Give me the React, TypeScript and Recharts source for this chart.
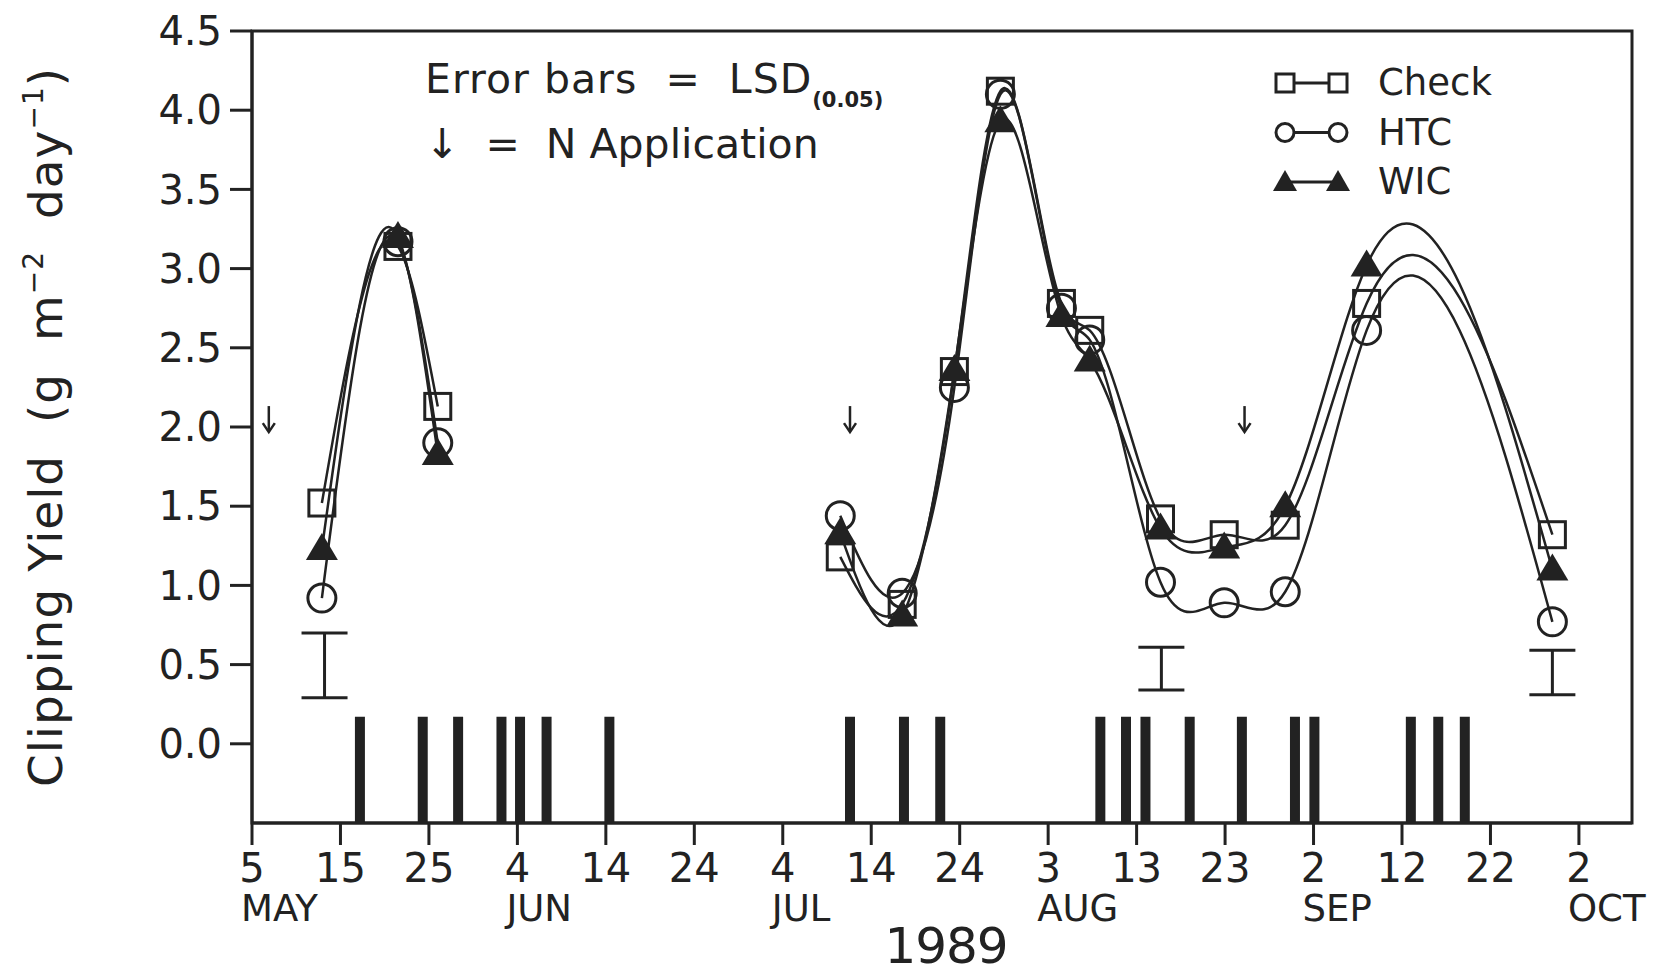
import {
  ComposedChart,
  Line,
  Scatter,
  ErrorBar,
  XAxis,
  YAxis,
  ReferenceLine,
  ReferenceArea,
  Legend,
} from "recharts";

const INK = "#222";
const FONT = "'DejaVu Sans', 'Liberation Sans', sans-serif";

// x = days after 5 May 1989
const X_TICKS = [0, 10, 20, 30, 40, 50, 60, 70, 80, 90, 100, 110, 120, 130, 140, 150];
const DAY_LABELS = ["5", "15", "25", "4", "14", "24", "4", "14", "24", "3", "13", "23", "2", "12", "22", "2"];
const MONTH_LABELS = ["MAY", "", "", "JUN", "", "", "JUL", "", "", "AUG", "", "", "SEP", "", "", "OCT"];
const Y_TICKS = [0, 0.5, 1, 1.5, 2, 2.5, 3, 3.5, 4, 4.5];

// first clipping period
const SPRING_DAYS = [7.9, 16.5, 21.0];
const SPRING_CHECK = [1.52, 3.14, 2.13];
const SPRING_HTC = [0.92, 3.17, 1.9];
const SPRING_WIC = [1.23, 3.2, 1.83];

// second clipping period
const SUMMER_DAYS = [66.5, 73.5, 79.4, 84.6, 91.5, 94.7, 102.7, 109.9, 116.8, 126.0, 147.0];
const SUMMER_CHECK = [1.18, 0.88, 2.35, 4.12, 2.78, 2.61, 1.42, 1.32, 1.38, 2.78, 1.32];
const SUMMER_HTC = [1.44, 0.95, 2.25, 4.1, 2.75, 2.55, 1.02, 0.89, 0.96, 2.61, 0.77];
const SUMMER_WIC = [1.33, 0.81, 2.36, 3.93, 2.7, 2.42, 1.36, 1.24, 1.5, 3.02, 1.1];

// LSD(0.05) bars
const LSD_DAYS = [8.2, 102.8, 147.0];
const LSD_LOW = [0.29, 0.34, 0.31];
const LSD_HIGH = [0.7, 0.61, 0.59];

// N application arrows
const N_DAYS = [1.9, 67.6, 112.2];
const N_LEVEL = [2.05, 2.05, 2.05];

// event bars along the bottom
const EVENT_DAYS = [12.2, 19.3, 23.3, 28.2, 30.3, 33.3, 40.4, 67.6, 73.7, 77.8, 95.9, 98.8, 101.0, 106.0, 111.9, 117.9, 120.1, 131.0, 134.1, 137.1];
const EVENT_TOP = 0.17;
const Y_MIN = -0.5;
const Y_MAX = 4.5;
const X_MAX = 156;

const springRows = SPRING_DAYS.map((day, i) => ({
  day,
  check: SPRING_CHECK[i],
  htc: SPRING_HTC[i],
  wic: SPRING_WIC[i],
}));
const summerRows = SUMMER_DAYS.map((day, i) => ({
  day,
  check: SUMMER_CHECK[i],
  htc: SUMMER_HTC[i],
  wic: SUMMER_WIC[i],
}));
const lsdRows = LSD_DAYS.map((day, i) => ({
  day,
  mid: (LSD_LOW[i] + LSD_HIGH[i]) / 2,
  err: (LSD_HIGH[i] - LSD_LOW[i]) / 2,
}));
const arrowRows = N_DAYS.map((day, i) => ({ day, level: N_LEVEL[i] }));

// knot slopes of a natural cubic spline y(x)
function naturalSlopes(xs: number[], ys: number[]) {
  const n = xs.length - 1;
  const h: number[] = [];
  const d: number[] = [];
  for (let i = 0; i < n; i++) {
    h[i] = xs[i + 1] - xs[i];
    d[i] = (ys[i + 1] - ys[i]) / h[i];
  }
  const M = new Array(n + 1).fill(0);
  if (n >= 2) {
    const a: number[] = [];
    const b: number[] = [];
    const c: number[] = [];
    const r: number[] = [];
    for (let i = 1; i < n; i++) {
      a[i] = h[i - 1];
      b[i] = 2 * (h[i - 1] + h[i]);
      c[i] = h[i];
      r[i] = 6 * (d[i] - d[i - 1]);
    }
    for (let i = 2; i < n; i++) {
      const w = a[i] / b[i - 1];
      b[i] -= w * c[i - 1];
      r[i] -= w * r[i - 1];
    }
    M[n - 1] = r[n - 1] / b[n - 1];
    for (let i = n - 2; i >= 1; i--) M[i] = (r[i] - c[i] * M[i + 1]) / b[i];
  }
  const s: number[] = [];
  for (let i = 0; i < n; i++) s[i] = d[i] - (h[i] * (2 * M[i] + M[i + 1])) / 6;
  s[n] = d[n - 1] + (h[n - 1] * (M[n - 1] + 2 * M[n])) / 6;
  return s;
}

// curve factory: spline of y as a function of x (not parametric like curveNatural)
function splineCurve(context: any) {
  let xs: number[] = [];
  let ys: number[] = [];
  return {
    areaStart() {},
    areaEnd() {},
    lineStart() {
      xs = [];
      ys = [];
    },
    point(x: number, y: number) {
      xs.push(+x);
      ys.push(+y);
    },
    lineEnd() {
      const n = xs.length;
      if (n === 0) return;
      context.moveTo(xs[0], ys[0]);
      if (n === 1) return;
      const s = naturalSlopes(xs, ys);
      for (let i = 0; i < n - 1; i++) {
        const h = xs[i + 1] - xs[i];
        context.bezierCurveTo(
          xs[i] + h / 3,
          ys[i] + (s[i] * h) / 3,
          xs[i + 1] - h / 3,
          ys[i + 1] - (s[i + 1] * h) / 3,
          xs[i + 1],
          ys[i + 1]
        );
      }
    },
  };
}

const SquareDot = (p: any) =>
  p.cx == null ? null : (
    <rect key={p.key} x={p.cx - 13} y={p.cy - 13} width={26} height={26} fill="none" stroke={INK} strokeWidth={3} />
  );
const CircleDot = (p: any) =>
  p.cx == null ? null : <circle key={p.key} cx={p.cx} cy={p.cy} r={14} fill="none" stroke={INK} strokeWidth={3} />;
const TriangleDot = (p: any) =>
  p.cx == null ? null : (
    <path key={p.key} d={`M${p.cx},${p.cy - 16}L${p.cx - 16},${p.cy + 11}L${p.cx + 16},${p.cy + 11}Z`} fill={INK} />
  );

const ArrowShape = (p: any) => (
  <g stroke={INK} strokeWidth={2.5} fill="none">
    <line x1={p.cx} y1={p.cy - 13} x2={p.cx} y2={p.cy + 12} />
    <path d={`M${p.cx - 6},${p.cy + 4}L${p.cx},${p.cy + 13}L${p.cx + 6},${p.cy + 4}`} />
  </g>
);

function DateTick(props: any) {
  const { x, y, payload } = props;
  const i = X_TICKS.indexOf(payload.value);
  return (
    <g fill={INK} fontFamily={FONT}>
      <text x={x} y={y + 35} textAnchor="middle" fontSize={40}>
        {DAY_LABELS[i]}
      </text>
      {MONTH_LABELS[i] && (
        <text x={x - 11} y={y + 74} textAnchor="start" fontSize={37}>
          {MONTH_LABELS[i]}
        </text>
      )}
    </g>
  );
}

const LEGEND_ITEMS = [
  { name: "Check", dot: "square" },
  { name: "HTC", dot: "circle" },
  { name: "WIC", dot: "triangle" },
];

function LegendMark({ kind, x, y }: { kind: string; x: number; y: number }) {
  if (kind === "square")
    return <rect x={x - 9} y={y - 9} width={18} height={18} fill="#fff" stroke={INK} strokeWidth={3} />;
  if (kind === "circle") return <circle cx={x} cy={y} r={9} fill="#fff" stroke={INK} strokeWidth={3} />;
  return <path d={`M${x},${y - 12}L${x - 12},${y + 9}L${x + 12},${y + 9}Z`} fill={INK} />;
}

function TreatmentLegend() {
  return (
    <svg width={240} height={150}>
      {LEGEND_ITEMS.map((item, i) => {
        const cy = 25 + i * 49.5;
        return (
          <g key={item.name}>
            <line x1={17} y1={cy} x2={70} y2={cy} stroke={INK} strokeWidth={3} />
            <LegendMark kind={item.dot} x={17} y={cy} />
            <LegendMark kind={item.dot} x={70} y={cy} />
            <text x={110} y={cy + 12} fontSize={37} fontFamily={FONT} fill={INK}>
              {item.name}
            </text>
          </g>
        );
      })}
    </svg>
  );
}

const SERIES = [
  { key: "check", dot: SquareDot },
  { key: "htc", dot: CircleDot },
  { key: "wic", dot: TriangleDot },
];

export default function App() {
  return (
    <div style={{ position: "absolute", left: 0, top: 0, width: 1655, height: 975, background: "#fff" }}>
      <ComposedChart width={1655} height={975} margin={{ top: 31, right: 23, left: 0, bottom: 0 }}>
        <XAxis
          type="number"
          dataKey="day"
          domain={[0, X_MAX]}
          ticks={X_TICKS}
          interval={0}
          allowDataOverflow
          height={152}
          tickSize={22}
          tickMargin={2}
          tick={<DateTick />}
          tickLine={{ stroke: INK, strokeWidth: 3 }}
          axisLine={{ stroke: INK, strokeWidth: 3 }}
        />
        <YAxis
          type="number"
          domain={[Y_MIN, Y_MAX]}
          ticks={Y_TICKS}
          interval={0}
          allowDataOverflow
          width={252}
          tickSize={22}
          tickMargin={8}
          tickFormatter={(v: number) => v.toFixed(1)}
          tick={{ fontSize: 40, fill: INK, fontFamily: FONT }}
          tickLine={{ stroke: INK, strokeWidth: 3 }}
          axisLine={{ stroke: INK, strokeWidth: 3 }}
        />
        <ReferenceArea x1={0} x2={X_MAX} y1={Y_MIN} y2={Y_MAX} fill="none" stroke={INK} strokeWidth={3} />
        {EVENT_DAYS.map((d) => (
          <ReferenceLine
            key={`ev-${d}`}
            segment={[
              { x: d, y: Y_MIN },
              { x: d, y: EVENT_TOP },
            ]}
            stroke={INK}
            strokeWidth={10}
          />
        ))}
        <Scatter data={lsdRows} dataKey="mid" shape={() => <g />} isAnimationActive={false}>
          <ErrorBar dataKey="err" direction="y" width={23} strokeWidth={3} stroke={INK} />
        </Scatter>
        <Scatter data={arrowRows} dataKey="level" shape={ArrowShape} isAnimationActive={false} />

        {[springRows, summerRows].map((rows, k) =>
          SERIES.map((s) => (
            <Line
              key={`${s.key}-${k}`}
              data={rows}
              dataKey={s.key}
              type={splineCurve as any}
              stroke={INK}
              strokeWidth={2.5}
              dot={s.dot}
              activeDot={false}
              isAnimationActive={false}
            />
          ))
        )}
        <Legend
          layout="vertical"
          align="center"
          verticalAlign="middle"
          content={<TreatmentLegend />}
          wrapperStyle={{ position: "absolute", left: 1268, top: 58, width: 240 }}
        />
      </ComposedChart>

      <svg
        width={1655}
        height={975}
        style={{ position: "absolute", left: 0, top: 0, pointerEvents: "none" }}
        fontFamily={FONT}
        fill={INK}
      >
        <text x={425} y={93} fontSize={41} letterSpacing={1} style={{ whiteSpace: "pre" }}>
          {"Error bars  =  LSD"}
          <tspan fontSize={21} fontWeight="bold" dy={14} letterSpacing={0}>
            (0.05)
          </tspan>
        </text>
        <text x={425} y={158} fontSize={41} style={{ whiteSpace: "pre" }}>
          {"↓  =  N Application"}
        </text>
        <text
          transform="translate(62, 427) rotate(-90)"
          textAnchor="middle"
          fontSize={47}
          letterSpacing={1}
          style={{ whiteSpace: "pre" }}
        >
          {"Clipping Yield  (g  m"}
          <tspan fontSize={28} dy={-19}>
            −2
          </tspan>
          <tspan dy={19}>{"  day"}</tspan>
          <tspan fontSize={28} dy={-19}>
            −1
          </tspan>
          <tspan dy={19}>)</tspan>
        </text>
        <text x={946} y={963} textAnchor="middle" fontSize={50} letterSpacing={-1}>
          1989
        </text>
      </svg>
    </div>
  );
}
